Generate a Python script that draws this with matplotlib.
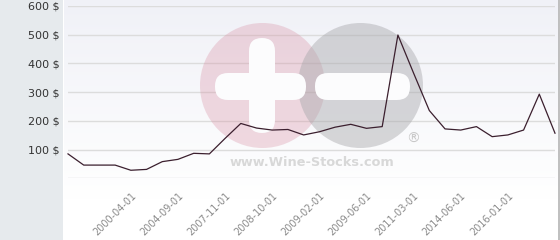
import numpy as np
import matplotlib
matplotlib.use("Agg")
import matplotlib.pyplot as plt
from matplotlib import transforms
from matplotlib.patches import Circle, FancyBboxPatch, Rectangle

# price history, one value per sample (every 3rd sample labelled)
prices = [85, 46, 46, 46, 28, 31, 58, 66, 87, 85, 139, 191, 175, 168, 170, 151,
          162, 178, 188, 174, 180, 499, 366, 236, 172, 168, 180, 145, 151, 168,
          293, 157]
tick_pos = [4, 7, 10, 13, 16, 19, 22, 25, 28]
tick_labels = ["2000-04-01", "2004-09-01", "2007-11-01", "2008-10-01",
               "2009-02-01", "2009-06-01", "2011-03-01", "2014-06-01",
               "2016-01-01"]
y_ticks = [0, 100, 200, 300, 400, 500, 600]
y_labels = ["", "100 $", "200 $", "300 $", "400 $", "500 $", "600 $"]

W, H = 560, 240
fig = plt.figure(figsize=(W / 100, H / 100), dpi=100)
fig.patch.set_facecolor("white")

# figure pixel transform (origin top-left)
pix = transforms.Affine2D().scale(1 / W, -1 / H).translate(0, 1) + fig.transFigure

# background: grey side panel + gradient plot area
bg = fig.add_axes([0, 0, 1, 1], zorder=0)
bg.set_xlim(0, W)
bg.set_ylim(H, 0)
bg.axis("off")
bg.add_patch(Rectangle((0, 0), 62.5, H, color="#e6eaed", lw=0))
grad = np.linspace(0, 1, 200)
top = np.array([240, 241, 247]) / 255
img = np.ones((H, 1, 3))
img[:200, 0, :] = top[None, :] * (1 - grad[:, None]) + grad[:, None]
bg.imshow(img, extent=(63.5, 558.5, H, 0), aspect="auto", interpolation="bilinear")
bg.plot([559, 559], [0, H], color="#b4b4b4", lw=1.2)

ax = fig.add_axes([68 / W, (H - 178.3) / H, (555 - 68) / W, (178.3 - 6) / H], zorder=1)
ax.patch.set_alpha(0)
for s in ax.spines.values():
    s.set_visible(False)

x = np.arange(len(prices))
ax.plot(x, prices, color="#3b1f2e", lw=0.9, zorder=3, clip_on=False)
ax.set_xlim(0, len(prices) - 1)
ax.set_ylim(0, 600)

ax.set_yticks(y_ticks)
ax.set_yticklabels(y_labels, fontsize=8, color="#333333")
ax.tick_params(axis="y", length=0, pad=6)
ax.set_xticks(tick_pos)
ax.set_xticklabels(tick_labels, rotation=45, ha="right", va="top",
                   rotation_mode="anchor", fontsize=7, color="#8a8a8a")
ax.tick_params(axis="x", length=0, pad=9)
ax.grid(axis="y", color="#dcdcdc", lw=1)
ax.set_axisbelow(True)

# watermark
wm = dict(transform=pix, clip_on=False, zorder=1)
ax.add_patch(Circle((262.5, 85.5), 62.5, color="#d88fa3", alpha=0.32, lw=0, **wm))
ax.add_patch(Circle((360.5, 85.5), 62.5, color="#a8a8ac", alpha=0.45, lw=0, **wm))
for bx, by, bw, bh in [(249, 38, 26, 95), (215, 73, 91, 27), (315, 73, 95, 27)]:
    ax.add_patch(FancyBboxPatch((bx, by), bw, bh, boxstyle="round,pad=0,rounding_size=13",
                                color="#fcfcfd", lw=0, **wm))
ax.text(312, 162, "www.Wine-Stocks.com", fontsize=9.3, fontweight="bold",
        color="#d8d8d8", ha="center", va="center", **wm)
ax.text(413, 139, "®", fontsize=10, color="#c8c8c8", ha="center", va="center", **wm)

fig.savefig("out.png", dpi=100)
